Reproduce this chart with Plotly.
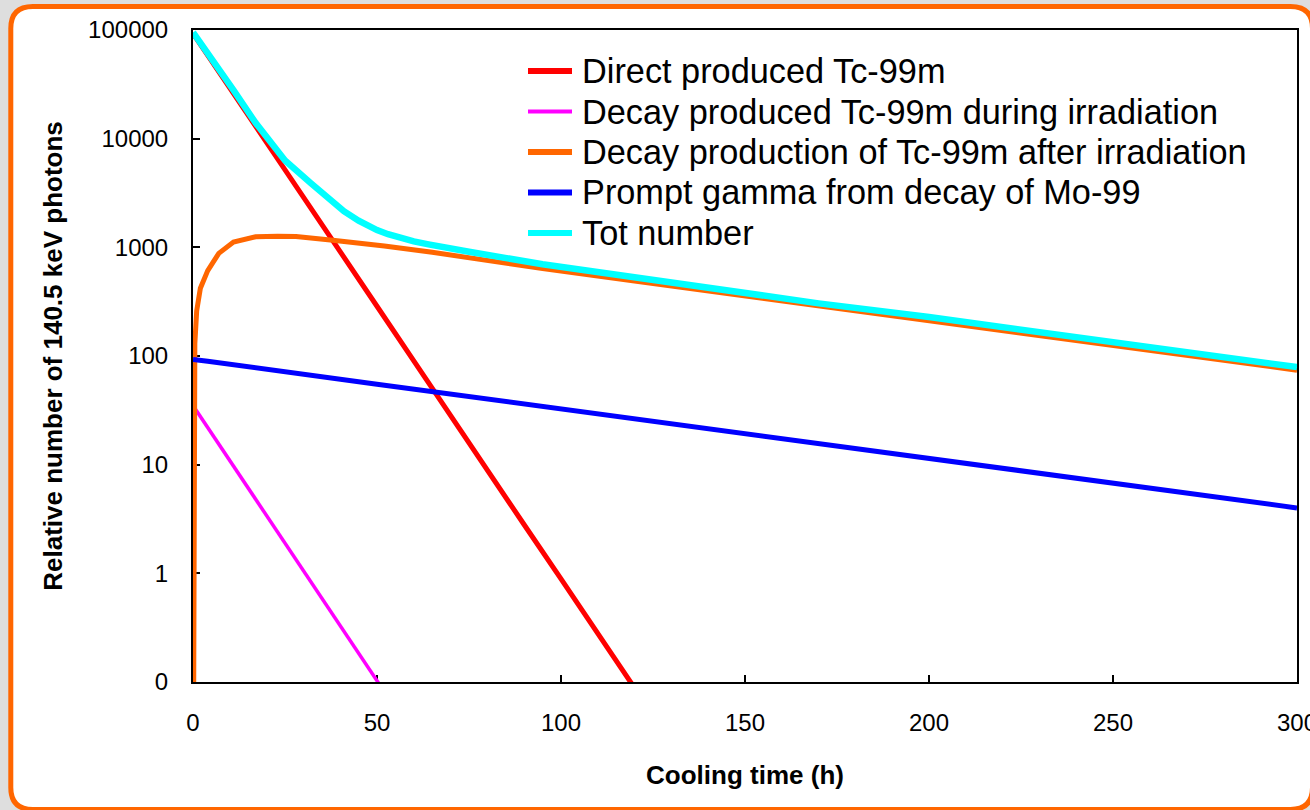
import plotly.graph_objects as go

# ---------------- data ----------------
t_direct = [0, 10, 20, 30, 40, 50, 60, 70, 80, 90, 100, 110, 120]
v_direct = [93000, 29000, 9200, 2900, 910, 287, 90, 28, 9.0, 2.8, 0.89, 0.28, 0.088]

t_during = [0, 10, 20, 30, 40, 50, 60]
v_during = [35, 10.9, 3.4, 1.06, 0.33, 0.103, 0.032]

t_after = [0, 0.5, 1, 2, 4, 7, 11, 17, 23, 28, 38, 46, 52, 65, 80, 95, 120, 145, 170, 200, 220, 250, 275, 300]
v_after = [0.001, 130, 260, 420, 610, 880, 1120, 1250, 1265, 1260, 1160, 1095, 1030, 900, 750, 637, 489, 377, 290, 212, 171, 125, 96, 74]

t_prompt = [0, 1, 4, 50, 100, 150, 200, 250, 300]
v_prompt = [93, 92.5, 89.5, 55, 32.6, 19.3, 11.4, 6.7, 4.0]

t_total = [0, 4, 7, 11, 17, 25, 32, 39, 41, 45, 47, 50, 53, 56, 60, 64, 70, 75, 95, 122, 144, 170, 200, 220, 250, 275, 300]
v_total = [95000, 61000, 45500, 28000, 14000, 6300, 3900, 2450, 2150, 1760, 1610, 1440, 1320, 1225, 1135, 1065, 975, 910, 700, 515, 403, 305, 228, 185, 135, 104, 79]

names = ["Direct produced Tc-99m",
         "Decay produced Tc-99m during irradiation",
         "Decay production of Tc-99m after irradiation",
         "Prompt gamma from decay of Mo-99",
         "Tot number"]
colors = ["#FF0000", "#FF00FF", "#FF6600", "#0000FF", "#00FFFF"]
widths = [5, 3.5, 5, 5, 6.5]
legend_widths = [6, 4, 6, 6, 6]

x_ticks = [0, 50, 100, 150, 200, 250, 300]
y_ticks = [0.1, 1, 10, 100, 1000, 10000, 100000]
y_ticktext = ["0", "1", "10", "100", "1000", "10000", "100000"]

series = [(t_direct, v_direct), (t_during, v_during), (t_after, v_after),
          (t_prompt, v_prompt), (t_total, v_total)]

# ---------------- figure ----------------
W, H = 1310, 810
ML, MR, MT, MB = 193, 13, 30, 128
PW, PH = W - ML - MR, H - MT - MB

def px2paper(px, py):
    return (px - ML) / PW, (H - MB - py) / PH

fig = go.Figure()
for (tx, vy), nm, c, w in zip(series, names, colors, widths):
    fig.add_trace(go.Scatter(x=tx, y=vy, mode="lines", name=nm,
                             line=dict(color=c, width=w), showlegend=False))

# rounded orange frame (decoration)
x0, y0, x1, y1, r = 10.8, 6.5, 1312.5, 809.5, 22
def P(px, py):
    a, b = px2paper(px, py)
    return f"{a:.5f},{b:.5f}"
path = (f"M{P(x0 + r, y0)} L{P(x1 - r, y0)} Q{P(x1, y0)} {P(x1, y0 + r)} "
        f"L{P(x1, y1 - r)} Q{P(x1, y1)} {P(x1 - r, y1)} "
        f"L{P(x0 + r, y1)} Q{P(x0, y1)} {P(x0, y1 - r)} "
        f"L{P(x0, y0 + r)} Q{P(x0, y0)} {P(x0 + r, y0)} Z")
fig.add_shape(type="path", path=path, xref="paper", yref="paper",
              line=dict(color="#FF6600", width=5), fillcolor="white", layer="below")

font_family = "Liberation Sans, Arial, sans-serif"

# legend drawn as line samples + text
leg_x0, leg_x1, leg_tx = 528, 572, 580
leg_y0, leg_dy = 71, 40.5
for i, (nm, c, lw) in enumerate(zip(names, colors, legend_widths)):
    yy = leg_y0 + i * leg_dy
    a0, b0 = px2paper(leg_x0, yy)
    a1, _ = px2paper(leg_x1, yy)
    fig.add_shape(type="line", xref="paper", yref="paper", x0=a0, x1=a1, y0=b0, y1=b0,
                  line=dict(color=c, width=lw))
    at, bt = px2paper(leg_tx, yy)
    fig.add_annotation(text=nm, xref="paper", yref="paper", x=at, y=bt,
                       xanchor="left", yanchor="middle", showarrow=False,
                       font=dict(size=34.3, family=font_family, color="black"))

fig.update_layout(
    width=W, height=H,
    margin=dict(l=ML, r=MR, t=MT, b=MB, autoexpand=False),
    paper_bgcolor="#dedede",
    plot_bgcolor="white",
    font=dict(family=font_family, color="black", size=24),
    showlegend=False,
    xaxis=dict(range=[0, 300], tickvals=x_ticks, ticks="inside", ticklen=7,
               tickwidth=2, tickcolor="black", showline=True, linecolor="black",
               linewidth=2, mirror=True, showgrid=False, zeroline=False,
               tickfont=dict(size=24), ticklabelstandoff=18, layer="below traces",
               ticklabeloverflow="allow", automargin=False,
               title=dict(text="<b>Cooling time (h)</b>", font=dict(size=26), standoff=31)),
    yaxis=dict(type="log", range=[-1, 5], tickvals=y_ticks, ticktext=y_ticktext,
               ticks="inside", ticklen=7, tickwidth=2, tickcolor="black",
               showline=True, linecolor="black", linewidth=2, mirror=True,
               showgrid=False, zeroline=False, tickfont=dict(size=24),
               ticklabelstandoff=18, layer="below traces", automargin=False,
               title=dict(text="<b>Relative number of 140.5 keV photons</b>",
                          font=dict(size=26), standoff=18)),
)

fig.write_html("out.html")
